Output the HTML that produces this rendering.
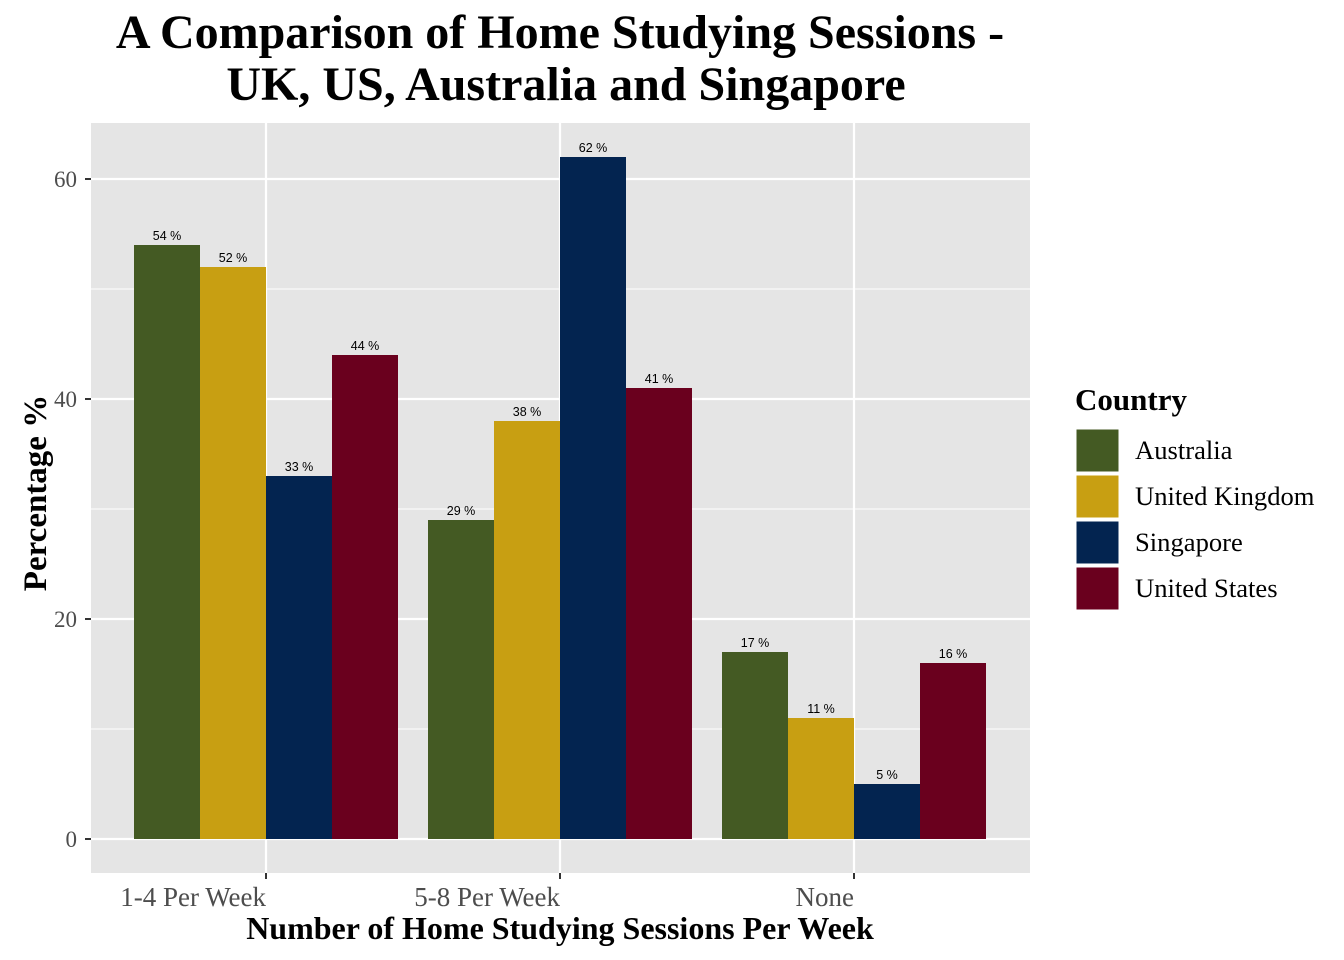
<!DOCTYPE html>
<html><head><meta charset="utf-8"><style>
body{margin:0;background:#fff}
svg{display:block}
</style></head><body>
<svg id="chart" width="1344" height="960" xmlns="http://www.w3.org/2000/svg">
<text x="560" y="48" text-anchor="middle" font-family="Liberation Serif, serif" font-weight="bold" font-size="48">A Comparison of Home Studying Sessions -</text>
<text x="566" y="100" text-anchor="middle" font-family="Liberation Serif, serif" font-weight="bold" font-size="48">UK, US, Australia and Singapore</text>
<rect x="91" y="123" width="939" height="750" fill="#e5e5e5"/>
<g id="grid"></g><g id="bars"></g><g id="axes"></g>
<text x="560" y="939" text-anchor="middle" font-family="Liberation Serif, serif" font-weight="bold" font-size="32">Number of Home Studying Sessions Per Week</text>
<text transform="translate(46,493) rotate(-90)" text-anchor="middle" font-family="Liberation Serif, serif" font-weight="bold" font-size="33">Percentage %</text>
<g id="legend">
<text x="1075" y="410" font-family="Liberation Serif, serif" font-weight="bold" font-size="31">Country</text>
</g>
</svg>
<script>
const categories=["1-4 Per Week","5-8 Per Week","None"];
const seriesNames=["Australia","United Kingdom","Singapore","United States"];
const australia=[54,29,17];
const unitedKingdom=[52,38,11];
const singapore=[33,62,5];
const unitedStates=[44,41,16];
const yTicks=[0,20,40,60];
const yMinor=[10,30,50];
const series=[australia,unitedKingdom,singapore,unitedStates];
const colors=["#445a23","#c89f12","#032450","#6a001e"];
const NS="http://www.w3.org/2000/svg";
const y=v=>839-v*11;
const xc=i=>266+i*294;
const bw=66;
function mk(tag,attrs,parent,text){const e=document.createElementNS(NS,tag);for(const k in attrs)e.setAttribute(k,attrs[k]);if(text!==undefined)e.textContent=text;parent.appendChild(e);return e;}
const grid=document.getElementById('grid'),bars=document.getElementById('bars'),axes=document.getElementById('axes'),legend=document.getElementById('legend');
yMinor.forEach(v=>{const l=mk('line',{x1:91,x2:1030,y1:y(v),y2:y(v),stroke:'#fff','stroke-width':1.1},grid);

});
yTicks.forEach(v=>{const l=mk('line',{x1:91,x2:1030,y1:y(v),y2:y(v),stroke:'#fff','stroke-width':2.2},grid);


const t=mk('text',{x:77,y:y(v)+8,'text-anchor':'end','font-family':'Liberation Serif, serif','font-size':23,fill:'#4d4d4d'},axes,String(v));


const tk=mk('line',{x1:85,x2:91,y1:y(v),y2:y(v),stroke:'#333','stroke-width':2},axes);

});
categories.forEach((c,i)=>{const l=mk('line',{x1:xc(i),x2:xc(i),y1:123,y2:873,stroke:'#fff','stroke-width':2.2},grid);


const tk=mk('line',{x1:xc(i),x2:xc(i),y1:873,y2:879,stroke:'#333','stroke-width':2},axes);


const t=mk('text',{x:xc(i),y:906,'text-anchor':'end','font-family':'Liberation Serif, serif','font-size':27,fill:'#4d4d4d'},axes,c);


series.forEach((s,j)=>{const x0=xc(i)-2*bw+j*bw;
const r=mk('rect',{x:x0,y:y(s[i]),width:bw,height:y(0)-y(s[i]),fill:colors[j]},bars);


const lb=mk('text',{x:x0+bw/2,y:y(s[i])-5,'text-anchor':'middle','font-family':'Liberation Sans, sans-serif','font-size':12.5,fill:'#000'},bars,s[i]+' %');

});});
seriesNames.forEach((n,j)=>{const yy=428+j*46;
const r=mk('rect',{x:1076,y:yy+1,width:43,height:43,fill:colors[j],stroke:'#fff','stroke-width':1},legend);


const t=mk('text',{x:1135,y:yy+31,'font-family':'Liberation Serif, serif','font-size':26.6},legend,n);

});
</script>
</body></html>
